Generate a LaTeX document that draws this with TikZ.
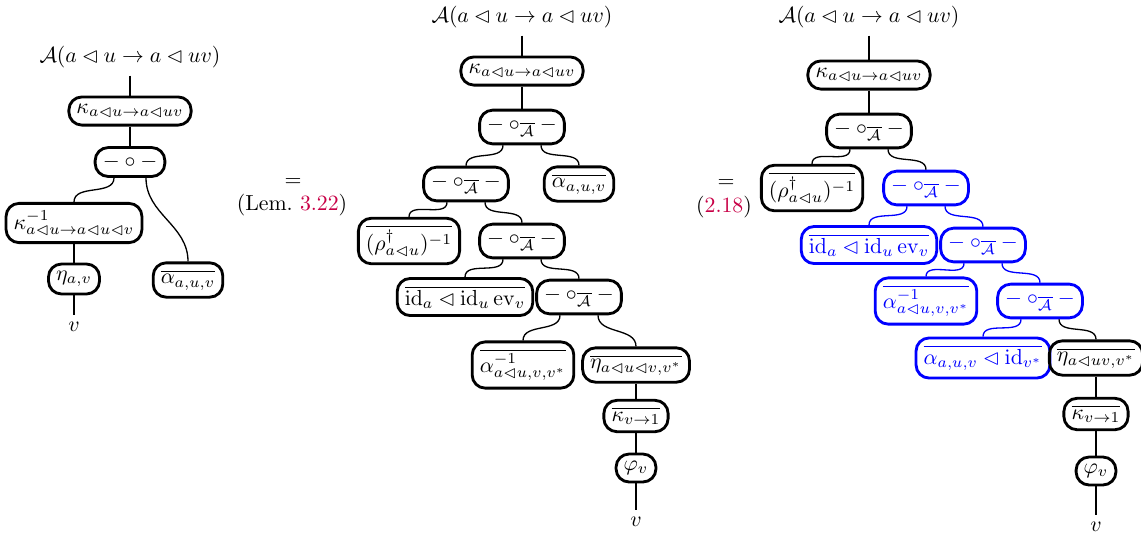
\documentclass[tikz,border=0pt]{standalone}
\usepackage{amsmath}
\usepackage{amssymb}
\usetikzlibrary{calc}
\definecolor{refcol}{RGB}{200,0,70}
\newcommand{\cmpA}{-\circ_{\overline{\mathcal{A}}}-}

\begin{document}
\begin{tikzpicture}[x=0.459pt,y=-0.459pt,
    box/.style={draw,line width=1.3pt,rounded corners=6pt,inner xsep=3.5pt,inner ysep=3.3pt},
    wire/.style={semithick},
    hl/.style={draw=blue,text=blue}]
        \useasboundingbox (0,0) rectangle (1141,535);

        % Left diagram.
        \node (tit1) at (130,57) {$\mathcal{A}(a \lhd u \to a \lhd uv)$};
        \node[box] (kap1) at (130,111) {$\kappa_{a\lhd u\to a\lhd uv}$};
        \node[box] (comp1) at (130,162) {$-\circ-$};
        \node[box] (kinv1) at (74,223) {$\kappa^{-1}_{a\lhd u\to a\lhd u\lhd v}$};
        \node[box] (eta1) at (74,279) {$\eta_{a,v}$};
        \node (v1) at (74,327) {$v$};
        \node[box] (alp1) at (188,280) {$\overline{\alpha_{a,u,v}}$};
        \draw[wire] (tit1) -- (kap1) -- (comp1);
        \draw[wire] ($(comp1.south)+(-16,0)$) to[out=-90,in=90] (kinv1.north);
        \draw[wire] ($(comp1.south)+(16,0)$) to[out=-90,in=90] (alp1.north);
        \draw[wire] (kinv1) -- (eta1) -- (v1);

        \node (eq1) at (293,182) {$=$};
        \node (lem1) at (292,205) {(Lem.~\textcolor{refcol}{3.22})};

        % Middle diagram.
        \node (tit2) at (522,17) {$\mathcal{A}(a \lhd u \to a \lhd uv)$};
        \node[box] (kap2) at (522,71) {$\kappa_{a\lhd u\to a\lhd uv}$};
        \node[box] (comp21) at (522,127) {$\cmpA$};
        \node[box] (comp22) at (466,184) {$\cmpA$};
        \node[box] (alp2) at (579,184) {$\overline{\alpha_{a,u,v}}$};
        \node[box] (rho2) at (409,241) {$\overline{(\rho^{\dagger}_{a\lhd u})^{-1}}$};
        \node[box] (comp23) at (522,241) {$\cmpA$};
        \node[box] (id2) at (465,297) {$\overline{\mathrm{id}_a \lhd \mathrm{id}_u\,\mathrm{ev}_v}$};
        \node[box] (comp24) at (579,297) {$\cmpA$};
        \node[box] (ainv2) at (523,365) {$\overline{\alpha^{-1}_{a\lhd u,v,v^*}}$};
        \node[box] (eta2) at (636,365) {$\overline{\eta_{a\lhd u\lhd v,v^*}}$};
        \node[box] (kv2) at (636,416) {$\overline{\kappa_{v\to 1}}$};
        \node[box] (phi2) at (636,468) {$\varphi_v$};
        \node (v2) at (636,522) {$v$};
        \draw[wire] (tit2) -- (kap2) -- (comp21);
        \draw[wire] ($(comp21.south)+(-19,0)$) to[out=-90,in=90] (comp22.north);
        \draw[wire] ($(comp21.south)+(19,0)$) to[out=-90,in=90] (alp2.north);
        \draw[wire] ($(comp22.south)+(-19,0)$) to[out=-90,in=90] (rho2.north);
        \draw[wire] ($(comp22.south)+(19,0)$) to[out=-90,in=90] (comp23.north);
        \draw[wire] ($(comp23.south)+(-19,0)$) to[out=-90,in=90] (id2.north);
        \draw[wire] ($(comp23.south)+(19,0)$) to[out=-90,in=90] (comp24.north);
        \draw[wire] ($(comp24.south)+(-19,0)$) to[out=-90,in=90] (ainv2.north);
        \draw[wire] ($(comp24.south)+(19,0)$) to[out=-90,in=90] (eta2.north);
        \draw[wire] (eta2) -- (kv2) -- (phi2) -- (v2);

        \node (eq2) at (726,183) {$=$};
        \node (lem2) at (724,207) {(\textcolor{refcol}{2.18})};

        % Right diagram.
        \node (tit3) at (869,17) {$\mathcal{A}(a \lhd u \to a \lhd uv)$};
        \node[box] (kap3) at (869,75) {$\kappa_{a\lhd u\to a\lhd uv}$};
        \node[box] (comp31) at (869,131) {$\cmpA$};
        \node[box] (rho3) at (812,188) {$\overline{(\rho^{\dagger}_{a\lhd u})^{-1}}$};
        \node[box,hl] (comp32) at (926,188) {$\cmpA$};
        \node[box,hl] (id3) at (869,245) {$\overline{\mathrm{id}_a \lhd \mathrm{id}_u\,\mathrm{ev}_v}$};
        \node[box,hl] (comp33) at (983,245) {$\cmpA$};
        \node[box,hl] (ainv3) at (926,301) {$\overline{\alpha^{-1}_{a\lhd u,v,v^*}}$};
        \node[box,hl] (comp34) at (1040,301) {$\cmpA$};
        \node[box,hl] (aid3) at (983,358) {$\overline{\alpha_{a,u,v}\lhd \mathrm{id}_{v^*}}$};
        \node[box] (eta3) at (1096,358) {$\overline{\eta_{a\lhd uv,v^*}}$};
        \node[box] (kv3) at (1096,414) {$\overline{\kappa_{v\to 1}}$};
        \node[box] (phi3) at (1096,471) {$\varphi_v$};
        \node (v3) at (1096,527) {$v$};
        \draw[wire] (tit3) -- (kap3) -- (comp31);
        \draw[wire] ($(comp31.south)+(-19,0)$) to[out=-90,in=90] (rho3.north);
        \draw[wire] ($(comp31.south)+(19,0)$) to[out=-90,in=90] (comp32.north);
        \draw[wire,blue] ($(comp32.south)+(-19,0)$) to[out=-90,in=90] (id3.north);
        \draw[wire,blue] ($(comp32.south)+(19,0)$) to[out=-90,in=90] (comp33.north);
        \draw[wire,blue] ($(comp33.south)+(-19,0)$) to[out=-90,in=90] (ainv3.north);
        \draw[wire,blue] ($(comp33.south)+(19,0)$) to[out=-90,in=90] (comp34.north);
        \draw[wire,blue] ($(comp34.south)+(-19,0)$) to[out=-90,in=90] (aid3.north);
        \draw[wire] ($(comp34.south)+(19,0)$) to[out=-90,in=90] (eta3.north);
        \draw[wire] (eta3) -- (kv3) -- (phi3) -- (v3);
      \end{tikzpicture}
\end{document}
